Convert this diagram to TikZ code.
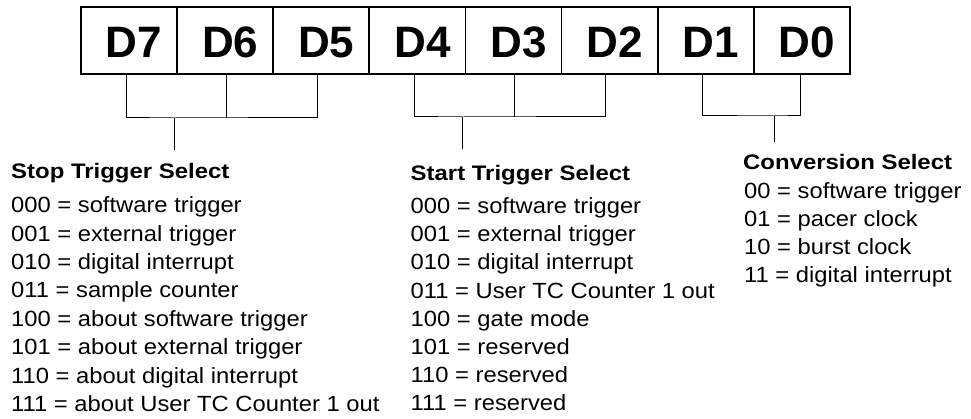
\documentclass[tikz,border=0pt]{standalone}
\usepackage{fontspec}
\setmainfont{Liberation Sans}
\newfontfamily\bodyfont{Liberation Sans}[FakeStretch=1.08]
\newfontfamily\headfont{Liberation Sans}[FakeStretch=1.14]
\usetikzlibrary{calc}
\begin{document}
\begin{tikzpicture}[x=1pt,y=-1pt,
  cell/.style={draw,line width=1.8pt,minimum width=96.1pt,minimum height=67pt,
    inner sep=0pt,outer sep=0pt},
  bitlabel/.style={anchor=base,inner sep=0pt,font=\fontsize{44}{44}\selectfont\bfseries},
  heading/.style={anchor=base west,inner sep=0pt,font=\headfont\fontsize{21}{21}\selectfont\bfseries},
  item/.style={anchor=base west,inner sep=0pt,font=\bodyfont\fontsize{22}{22}\selectfont},
  bracket/.style={line width=1pt}]
\useasboundingbox (0,0) rectangle (971,419);

% register cells D7 ... D0
\foreach \b [count=\i from 0] in {7,6,5,4,3,2,1,0} {
  \node[cell] (d\b) at ({81+96.1*\i+48.05},40.5) {};
  \node[bitlabel] (t\b) at ({81+96.1*\i+48.05+5},57.5) {D\b};
}

% bracket junctions
\coordinate (s7) at ($(d7.south)+(-2.8,0)$);
\coordinate (s6) at ($(d6.south)+(1.2,0)$);
\coordinate (s5) at ($(d5.south)+(-3.3,0)$);
\coordinate (s4) at ($(d4.south)+(-2.5,0)$);
\coordinate (s3) at ($(d3.south)+(1,0)$);
\coordinate (s2) at ($(d2.south)+(-4,0)$);
\coordinate (s1) at ($(d1.south)+(-3,0)$);
\coordinate (s0) at ($(d0.south)+(-1,0)$);

\coordinate (stopjoin) at (174,118);
\coordinate (stopend) at (174,150);
\coordinate (startjoin) at (462.7,117);
\coordinate (startend) at (462.7,149);
\coordinate (convjoin) at (774,116);
\coordinate (convend) at (774,142);

% stop trigger bracket (D7..D5)
\draw[bracket] (s7) |- (stopjoin) -| (s5);
\draw[bracket] (s6) -- (s6 |- stopjoin);
\draw[bracket] (stopjoin) -- (stopend);

% start trigger bracket (D4..D2)
\draw[bracket] (s4) |- (startjoin) -| (s2);
\draw[bracket] (s3) -- (s3 |- startjoin);
\draw[bracket] (startjoin) -- (startend);

% conversion bracket (D1..D0)
\draw[bracket] (s1) |- (convjoin) -| (s0);
\draw[bracket] (convjoin) -- (convend);

% stop trigger select
\node[heading] (stophead) at (11,179) {Stop Trigger Select};
\foreach \t [count=\i] in {000 = software trigger, 001 = external trigger,
    010 = digital interrupt, 011 = sample counter, 100 = about software trigger,
    101 = about external trigger, 110 = about digital interrupt,
    111 = about User TC Counter 1 out}
  \node[item] (stop\i) at (11,{212.7+28.4*(\i-1)}) {\t};

% start trigger select
\node[heading] (starthead) at (410.5,180.5) {Start Trigger Select};
\foreach \t [count=\i] in {000 = software trigger, 001 = external trigger,
    010 = digital interrupt, 011 = User TC Counter 1 out, 100 = gate mode,
    101 = reserved, 110 = reserved, 111 = reserved}
  \node[item] (start\i) at (410.5,{213.5+28.2*(\i-1)}) {\t};

% conversion select
\node[heading] (convhead) at (743,169.3) {Conversion Select};
\foreach \t [count=\i] in {00 = software trigger, 01 = pacer clock,
    10 = burst clock, 11 = digital interrupt}
  \node[item] (conv\i) at (744,{198.3+28.1*(\i-1)}) {\t};
\end{tikzpicture}
\end{document}
